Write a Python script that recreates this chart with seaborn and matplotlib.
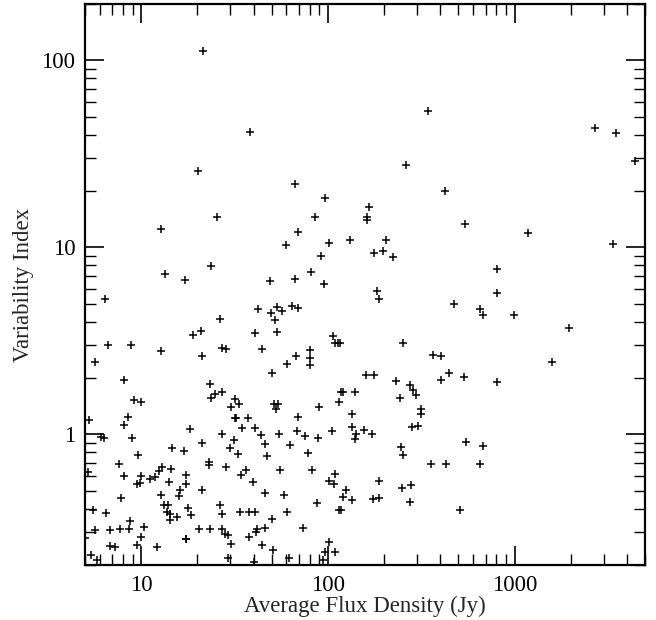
import matplotlib
matplotlib.use("Agg")
import matplotlib.pyplot as plt
import matplotlib.ticker as mticker
import seaborn as sns
import pandas as pd

# Average flux density (Jy) and variability index
flux = [
    21.4, 38.5, 20.2, 66.8, 96, 25.6, 85.5, 12.7, 69, 60, 102, 345, 2700, 3490, 4420,
    262, 426, 166, 163, 163, 546, 1175, 3380, 131, 205, 177, 197, 222, 92,
    81, 67, 95, 183, 187, 476, 807, 807, 657, 682, 991, 1950, 1585, 537, 807,
    23.6, 13.4, 17.1, 48.8, 6.43, 42.4, 49.6, 26.5, 21.0, 18.9, 40.7, 6.67, 8.87,
    12.8, 27.2, 28.6, 44.2, 21.3, 5.64, 50, 8.1, 23.3, 27.1, 25, 23.8, 32, 9.1, 10.0,
    53.2, 57, 64, 69.5, 51.8, 53.2, 106, 109.5, 113, 116, 252, 367, 405, 80.4, 80.4,
    80.4, 67.9, 60.2, 161, 176, 233, 275, 285, 295, 243, 444, 405, 118, 121, 140,
    114.5, 134, 314, 314,
    134, 156, 173, 142, 140, 105, 283, 304, 245, 252, 552, 682, 355, 431, 657,
    109, 102, 108, 125, 121, 134, 114.5, 117, 187, 174, 188, 250, 278, 275, 509,
    101, 96, 109, 94, 51.7, 54.3, 53, 69, 89.9, 55, 68.4, 75.5, 89, 63, 78.3,
    55.5, 82, 58.5, 87.2, 60.7, 50, 74, 50.6, 62, 33.4, 30.1, 5.23, 8.48, 8.07,
    31.7, 32.3, 37.4, 34.8, 40.7, 18.2, 6.1, 6.3, 27, 8.94, 21.2, 31.4, 29.9, 43.6,
    46.1, 14.7, 16.9, 33, 47, 9.63, 7.58, 23.1, 23.1, 28.6, 12.95, 14.4, 12.5, 5.19,
    8.07, 10.0, 11.2, 11.9, 9.5, 9.8, 14.1, 17.3, 17.3, 34.1, 36.3, 39.9, 21.3, 16.2,
    16.0, 46.3, 12.7, 7.83, 13.2, 13.95, 13.8, 14.2, 14.2, 15.5, 17.9, 18.5, 26.5,
    27, 33.7, 37.8, 40.8, 5.52, 6.5, 8.75, 5.64, 6.8, 7.7, 8.6, 10.3, 10.0, 5.0,
    6.78, 7.27, 9.5, 12.2, 17.3, 17.4, 20.4, 23.5, 27, 28.1, 29.3, 30.1, 37.8, 41.4,
    41.9, 46.1, 44.6, 5.4, 5.8, 29.3, 40.4,
]
var_index = [
    112, 41.5, 25.6, 21.9, 18.4, 14.6, 14.6, 12.5, 12.0, 10.3, 10.5, 53.6, 43.6, 41.0, 28.9,
    27.4, 20.0, 16.5, 14.5, 14.0, 13.4, 11.9, 10.4, 11.0, 10.9, 9.3, 9.55, 8.83, 9.0,
    7.4, 6.78, 6.35, 5.83, 5.30, 4.97, 7.62, 5.71, 4.65, 4.35, 4.35, 3.68, 2.43, 2.03, 1.90,
    7.96, 7.19, 6.67, 6.62, 5.26, 4.67, 4.46, 4.14, 3.56, 3.40, 3.47, 3.02, 3.02,
    2.78, 2.90, 2.86, 2.86, 2.62, 2.44, 2.13, 1.94, 1.85, 1.69, 1.65, 1.57, 1.55, 1.52, 1.49,
    4.77, 4.57, 4.84, 4.74, 4.06, 3.53, 3.37, 3.06, 3.06, 3.08, 3.08, 2.65, 2.63, 2.82, 2.56,
    2.34, 2.62, 2.39, 2.07, 2.07, 1.92, 1.83, 1.72, 1.62, 1.57, 2.14, 1.95, 1.68, 1.68, 1.68,
    1.48, 1.29, 1.37, 1.28,
    1.09, 1.06, 1.0, 1.0, 0.94, 1.04, 1.09, 1.11, 0.855, 0.778, 0.906, 0.87, 0.691, 0.696, 0.69,
    0.616, 0.562, 0.545, 0.506, 0.462, 0.443, 0.395, 0.395, 0.56, 0.449, 0.458, 0.516, 0.538, 0.432, 0.395,
    0.265, 0.234, 0.236, 0.212, 1.46, 1.46, 1.37, 1.24, 1.40, 1.0, 1.047, 0.984, 0.955, 0.881, 0.798,
    0.647, 0.642, 0.471, 0.427, 0.384, 0.354, 0.317, 0.241, 0.219, 1.46, 1.40, 1.19, 1.24, 1.12,
    1.22, 1.22, 1.22, 1.08, 1.08, 1.07, 0.97, 0.96, 1.0, 0.96, 0.898, 0.929, 0.849, 0.99,
    0.892, 0.849, 0.811, 0.788, 0.765, 0.778, 0.693, 0.711, 0.689, 0.668, 0.668, 0.655, 0.636, 0.628,
    0.596, 0.596, 0.579, 0.588, 0.545, 0.551, 0.556, 0.608, 0.545, 0.603, 0.642, 0.556, 0.501, 0.501,
    0.468, 0.485, 0.471, 0.458, 0.417, 0.417, 0.384, 0.376, 0.346, 0.361, 0.403, 0.368, 0.417,
    0.375, 0.384, 0.384, 0.384, 0.392, 0.381, 0.345, 0.306, 0.306, 0.313, 0.31, 0.319, 0.282, 0.279,
    0.252, 0.249, 0.255, 0.249, 0.277, 0.275, 0.31, 0.31, 0.313, 0.294, 0.288, 0.26, 0.282, 0.30,
    0.31, 0.315, 0.255, 0.225, 0.212, 0.219, 0.207,
]

x_ticks = [10, 100, 1000]
x_tick_labels = ["10", "100", "1000"]
y_ticks = [1, 10, 100]
y_tick_labels = ["1", "10", "100"]

df = pd.DataFrame({"flux": flux, "var": var_index})

sns.set_theme(style="ticks")
plt.rcParams["font.family"] = ["Liberation Serif", "DejaVu Serif"]

fig = plt.figure(figsize=(6.56, 6.2), dpi=100)
ax = fig.add_axes([85 / 656, 55 / 620, 560 / 656, 561 / 620])

sns.scatterplot(data=df, x="flux", y="var", marker="+", color="black",
                s=38, linewidth=1.1, ax=ax, legend=False)

ax.set_xscale("log")
ax.set_yscale("log")
ax.set_xlim(5, 5000)
ax.set_ylim(0.2, 200)

ax.xaxis.set_major_locator(mticker.FixedLocator(x_ticks))
ax.xaxis.set_major_formatter(mticker.FixedFormatter(x_tick_labels))
ax.yaxis.set_major_locator(mticker.FixedLocator(y_ticks))
ax.yaxis.set_major_formatter(mticker.FixedFormatter(y_tick_labels))
ax.xaxis.set_minor_locator(mticker.LogLocator(base=10, subs=range(2, 10)))
ax.yaxis.set_minor_locator(mticker.LogLocator(base=10, subs=range(2, 10)))
ax.xaxis.set_minor_formatter(mticker.NullFormatter())
ax.yaxis.set_minor_formatter(mticker.NullFormatter())

ax.tick_params(which="both", direction="in", top=True, right=True,
               labelsize=16.5, colors="black", pad=7)
ax.tick_params(which="major", length=14, width=1.2)
ax.tick_params(which="minor", length=8, width=1.0)

for sp in ax.spines.values():
    sp.set_linewidth(1.6)
    sp.set_color("black")
    sp.set_visible(True)

ax.set_xlabel("Average Flux Density (Jy)", fontsize=16.5, labelpad=0)
ax.set_ylabel("Variability Index", fontsize=16.5, labelpad=5)

fig.savefig("out.png", dpi=100, facecolor="white")
